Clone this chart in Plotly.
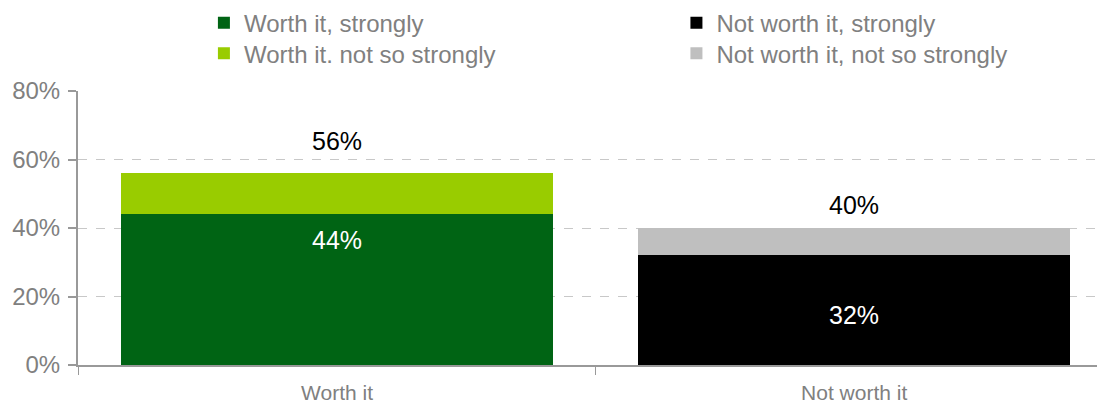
import plotly.graph_objects as go

categories = ["Worth it", "Not worth it"]
series_names = ["Worth it, strongly", "Worth it. not so strongly",
                "Not worth it, strongly", "Not worth it, not so strongly"]
series_values = [
    [0.44, None],
    [0.12, None],
    [None, 0.32],
    [None, 0.08],
]
series_colors = ["#006414", "#99CC00", "#000000", "#BFBFBF"]
series_show_label = [True, False, True, False]
y_tick_vals = [0, 0.2, 0.4, 0.6, 0.8]
y_tick_text = ["0%", "20%", "40%", "60%", "80%"]

FONT = "Liberation Sans"
legend_ids = ["legend", "legend2", "legend3", "legend4"]
legend_pos = [(0.1226, 1.330), (0.1226, 1.218), (0.5827, 1.330), (0.5827, 1.218)]

fig = go.Figure()
for name, vals, col, lg in zip(series_names, series_values, series_colors, legend_ids):
    fig.add_trace(go.Bar(
        x=categories, y=vals, name=name, legend=lg,
        marker=dict(color=col, line=dict(width=0)),
        hoverinfo="skip",
    ))

# inner segment labels (white)
for name, vals, show in zip(series_names, series_values, series_show_label):
    if not show:
        continue
    for c, v in zip(categories, vals):
        if v is None:
            continue
        if c == categories[0]:
            y, shift = v, -26
        else:
            y, shift = v / 2, -5
        fig.add_annotation(x=c, y=y, text=f"{round(v*100)}%", showarrow=False,
                           yanchor="middle", yshift=shift,
                           font=dict(size=25, color="white", family=FONT))

# totals above bars
for i, c in enumerate(categories):
    t = sum(v[i] for v in series_values if v[i] is not None)
    fig.add_annotation(x=c, y=t, text=f"{round(t*100)}%", showarrow=False,
                       yanchor="middle", yshift=32 if i == 0 else 23,
                       font=dict(size=25, color="black", family=FONT))

legend_common = dict(orientation="v", yanchor="top", xanchor="left",
                     font=dict(size=24, color="#808080", family=FONT),
                     itemclick=False, itemdoubleclick=False,
                     bgcolor="rgba(0,0,0,0)")
legends = {lid: dict(x=px, y=py, **legend_common)
           for lid, (px, py) in zip(legend_ids, legend_pos)}

fig.update_layout(
    width=1097, height=400,
    barmode="stack", bargap=0.164,
    plot_bgcolor="white", paper_bgcolor="white",
    margin=dict(l=70, r=0, t=83, b=43, autoexpand=False),
    font=dict(family=FONT, color="#808080"),
    showlegend=True,
    **legends,
    xaxis=dict(range=[-0.501, 1.485],
               showline=True, linecolor="#999999", linewidth=2,
               ticks="outside", tickson="boundaries", ticklen=8, tickcolor="#999999",
               tickwidth=1, tickfont=dict(size=21, color="#808080"),
               ticklabelstandoff=8,
               showgrid=False, fixedrange=True, automargin=False),
    yaxis=dict(range=[0, 0.8], tickvals=y_tick_vals, ticktext=y_tick_text,
               showline=True, linecolor="#999999", linewidth=2,
               ticks="outside", ticklen=8, tickcolor="#999999", tickwidth=2,
               tickfont=dict(size=24, color="#808080"), ticklabelstandoff=3,
               showgrid=True, gridcolor="#C8C8C8", griddash="dash", gridwidth=1,
               zeroline=False, fixedrange=True, automargin=False),
)

fig.write_html("out.html")
